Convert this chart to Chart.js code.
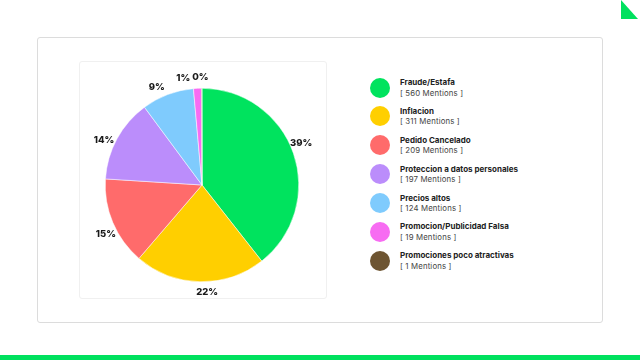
<!DOCTYPE html>
<html><head><meta charset="utf-8">
<script src="https://cdn.jsdelivr.net/npm/chart.js@4"></script>
<style>
html,body{margin:0;padding:0;width:640px;height:360px;background:#fff;overflow:hidden;font-family:"Inter","Open Sans",sans-serif;}
#card{position:absolute;left:37px;top:37px;width:564px;height:284px;border:1px solid #dcdcdc;border-radius:3px;}
#pbox{position:absolute;left:79px;top:61px;width:246px;height:236px;border:1px solid #f0f0f0;border-radius:3px;}
#pbox canvas{position:absolute;left:0;top:0;}
#legend{position:absolute;left:370px;top:77px;}
.item{position:relative;height:28.9px;}
.dot{position:absolute;left:0;top:0.5px;width:20px;height:20px;border-radius:50%;}
.t{position:absolute;left:30px;top:0px;font-size:8px;font-weight:700;color:#222;white-space:nowrap;line-height:11px;}
.s{position:absolute;left:30px;top:10.5px;font-size:7.8px;color:#444;white-space:nowrap;line-height:11px;letter-spacing:0.15px;}
#bar{position:absolute;left:0;top:355px;width:640px;height:5px;background:#00e15e;}
#tri{position:absolute;left:621px;top:0;width:0;height:0;border-left:17px solid #00e15e;border-top:19px solid transparent;}
</style></head>
<body>
<div id="card"></div>
<div id="pbox"><canvas id="c" width="246" height="236"></canvas></div>
<div id="legend"></div>
<div id="bar"></div>
<div id="tri"></div>
<script>
const categories = ["Fraude/Estafa","Inflacion","Pedido Cancelado","Proteccion a datos personales","Precios altos","Promocion/Publicidad Falsa","Promociones poco atractivas"];
const mentions = [560,311,209,197,124,19,1];
const colors = ["#00e35e","#ffcf00","#ff6b6b","#bb8dfb","#7fcbfd","#f76cf2","#6e5532"];

const total = mentions.reduce((a,b)=>a+b,0);
const leg = document.getElementById('legend');
categories.forEach((c,i)=>{
  const d=document.createElement('div');d.className='item';
  d.innerHTML='<div class="dot" style="background:'+colors[i]+'"></div><div class="t">'+c+'</div><div class="s">[ '+mentions[i]+' Mentions ]</div>';
  leg.appendChild(d);
});

const outLabels = {
  id:'outLabels',
  afterDatasetsDraw(chart){
    const ctx=chart.ctx;
    const meta=chart.getDatasetMeta(0);
    ctx.save();
    ctx.font='800 9.5px Inter, "Open Sans", sans-serif';
    ctx.fillStyle='#1a1a1a';
    ctx.textAlign='center';ctx.textBaseline='middle';
    const pos=[];
    const shift=-4*Math.PI/180;
    meta.data.forEach((arc,i)=>{
      const a=(arc.startAngle+arc.endAngle)/2+shift;
      const r=arc.outerRadius+11;
      const txt=Math.round(mentions[i]/total*100)+'%';
      const w=ctx.measureText(txt).width;
      pos.push({x:arc.x+Math.cos(a)*r,y:arc.y+Math.sin(a)*r,w,txt});
    });
    for(let k=0;k<5;k++){
      for(let i=1;i<pos.length;i++){
        const p=pos[i-1],q=pos[i];
        if(Math.abs(p.y-q.y)<9){
          const need=(p.w+q.w)/2+2-Math.abs(p.x-q.x);
          if(need>0){
            if(q.x>=p.x){q.x+=need/2;p.x-=need/2;}else{q.x-=need/2;p.x+=need/2;}
          }
        }
      }
    }
    pos.forEach(p=>ctx.fillText(p.txt,p.x,p.y));
    ctx.restore();
  }
};

new Chart(document.getElementById('c'),{
  type:'pie',
  data:{labels:categories,datasets:[{data:mentions,backgroundColor:colors,borderColor:'#ffffff',borderWidth:0.5}]},
  options:{
    responsive:false,animation:false,
    layout:{padding:{top:26,bottom:16,left:25,right:27}},
    plugins:{legend:{display:false},tooltip:{enabled:false}}
  },
  plugins:[outLabels]
});
</script>
</body></html>
